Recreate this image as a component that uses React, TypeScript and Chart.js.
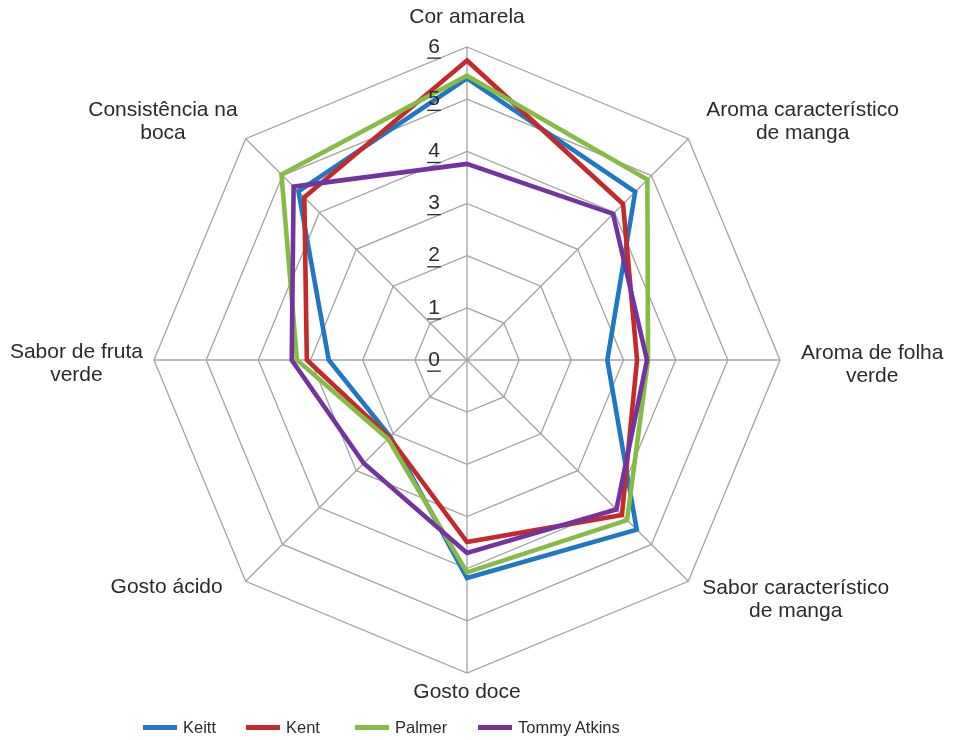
import React, { useEffect, useRef } from 'react';
import { Chart, registerables } from 'chart.js';

Chart.register(...registerables);

// ---- data ----
const categories: (string | string[])[] = [
  'Cor amarela',
  ['Aroma característico', 'de manga'],
  ['Aroma de folha', 'verde'],
  ['Sabor característico', 'de manga'],
  'Gosto doce',
  'Gosto ácido',
  ['Sabor de fruta', 'verde'],
  ['Consistência na', 'boca'],
];

const keitt = [5.4, 4.56, 2.69, 4.6, 4.18, 2.08, 2.65, 4.57];
const kent = [5.74, 4.23, 3.26, 4.2, 3.49, 2.1, 3.07, 4.41];
const palmer = [5.45, 4.89, 3.47, 4.34, 4.07, 2.14, 3.26, 5.03];
const tommyAtkins = [3.76, 3.96, 3.45, 4.05, 3.7, 2.8, 3.36, 4.7];

const seriesNames = ['Keitt', 'Kent', 'Palmer', 'Tommy Atkins'];
const seriesValues = [keitt, kent, palmer, tommyAtkins];
const tickValues = [0, 1, 2, 3, 4, 5, 6];

// ---- styles ----
const seriesColors = ['#1F78C1', '#C42A2C', '#86BC45', '#7334A0'];
const legendLefts = [143, 246, 355, 478];
// label anchor offsets (dx, dy) from the outer vertex of each axis
const labelOffsets: [number, number][] = [
  [0, -18],
  [18, -17],
  [21, 5],
  [14, 18],
  [0, 8],
  [-23, 6],
  [-11, 4],
  [-8, -17],
];
const FONT = '"Liberation Sans", Arial, sans-serif';
const TEXT_COLOR = '#2b2b2b';
const GRID_COLOR = '#a3a3a3';

const labelPlugin = {
  id: 'excelLabels',
  afterDraw(chart: any) {
    const scale = chart.scales.r;
    const ctx = chart.ctx as CanvasRenderingContext2D;
    ctx.save();
    ctx.font = `21px ${FONT}`;
    ctx.fillStyle = TEXT_COLOR;
    ctx.textBaseline = 'middle';
    ctx.textAlign = 'center';
    const lh = 23;
    categories.forEach((lab, i) => {
      const lines = Array.isArray(lab) ? lab : [lab];
      const angle = scale.getIndexAngle(i) - Math.PI / 2;
      const cos = Math.cos(angle);
      const sin = Math.sin(angle);
      const v = scale.getPointPosition(i, scale.drawingArea);
      const px = v.x + labelOffsets[i][0];
      const py = v.y + labelOffsets[i][1];
      const w = Math.max(...lines.map((l) => ctx.measureText(l).width));
      const h = lines.length * lh;
      let left: number;
      if (cos > 0.01) left = px;
      else if (cos < -0.01) left = px - w;
      else left = px - w / 2;
      let top: number;
      if (sin < -0.99) top = py - h;
      else if (sin > 0.99) top = py;
      else top = py - h / 2;
      lines.forEach((l, k) => ctx.fillText(l, left + w / 2, top + lh * k + lh / 2));
    });
    tickValues.forEach((val) => {
      const p = scale.getPointPositionForValue(0, val);
      const x = p.x - 33;
      const s = String(val);
      ctx.fillText(s, x, p.y);
      const tw = ctx.measureText(s).width;
      ctx.fillRect(x - tw / 2 - 1, p.y + 10.5, tw + 2, 1.3);
    });
    ctx.restore();
  },
};

export default function App() {
  const canvasRef = useRef<HTMLCanvasElement | null>(null);

  useEffect(() => {
    if (!canvasRef.current) return;
    const chart = new Chart(canvasRef.current, {
      type: 'radar',
      data: {
        labels: categories.map((c) => (Array.isArray(c) ? c.join(' ') : c)),
        datasets: seriesNames.map((name, i) => ({
          label: name,
          data: seriesValues[i],
          borderColor: seriesColors[i],
          backgroundColor: seriesColors[i],
          borderWidth: 4.6,
          fill: false,
          pointRadius: 0,
          pointHoverRadius: 0,
          order: seriesNames.length - i,
          borderJoinStyle: 'miter' as const,
        })),
      },
      options: {
        responsive: true,
        maintainAspectRatio: false,
        animation: false,
        layout: { padding: { left: 154, right: 173, top: 47, bottom: 67 } },
        plugins: {
          legend: { display: false },
          tooltip: { enabled: false },
        },
        scales: {
          r: {
            min: 0,
            max: 6,
            ticks: { display: false, stepSize: 1 },
            pointLabels: { display: false },
            grid: { color: GRID_COLOR, lineWidth: 1.3 },
            angleLines: { color: GRID_COLOR, lineWidth: 1.3 },
          },
        },
      },
      plugins: [labelPlugin],
    });
    return () => chart.destroy();
  }, []);

  return (
    <div style={{ position: 'absolute', left: 0, top: 0, width: 953, height: 740, background: '#fff' }}>
      <div style={{ position: 'absolute', left: 0, top: 0, width: 953, height: 740 }}>
        <canvas ref={canvasRef} />
      </div>
      {seriesNames.map((name, i) => (
        <div
          key={name}
          style={{
            position: 'absolute',
            left: legendLefts[i],
            top: 715,
            height: 24,
            display: 'flex',
            alignItems: 'center',
            fontFamily: FONT,
            fontSize: 16.5,
            color: TEXT_COLOR,
            whiteSpace: 'nowrap',
          }}
        >
          <span style={{ display: 'inline-block', width: 34, height: 5, background: seriesColors[i], marginRight: 6 }} />
          <span>{name}</span>
        </div>
      ))}
    </div>
  );
}
